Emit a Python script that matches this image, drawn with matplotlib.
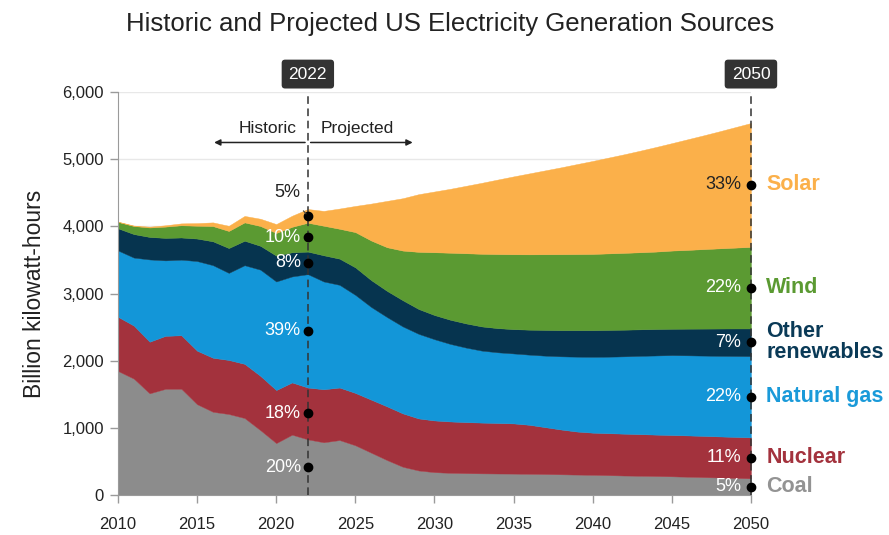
import numpy as np
import matplotlib
matplotlib.use("Agg")
import matplotlib.pyplot as plt
from matplotlib.ticker import FuncFormatter

plt.rcParams['font.family'] = ['Liberation Sans', 'DejaVu Sans']

# data (billion kWh)
years = list(range(2010, 2051))

coal = [1847, 1733, 1514, 1581, 1582, 1352, 1239, 1206, 1146, 965, 773, 898, 828,
        785, 818, 740, 630, 520, 420, 365, 340, 330, 325, 322, 320, 318, 315, 312,
        308, 304, 300, 295, 290, 286, 282, 278, 272, 266, 260, 254, 248]
nuclear = [807, 790, 769, 789, 797, 797, 805, 805, 807, 809, 790, 778, 772,
           790, 782, 780, 790, 800, 795, 775, 770, 765, 760, 756, 752, 748, 730, 698,
           667, 641, 628, 625, 623, 620, 617, 615, 615, 614, 612, 611, 610]
gas = [988, 1013, 1225, 1124, 1126, 1335, 1379, 1297, 1469, 1582, 1617, 1579, 1689,
       1605, 1530, 1460, 1380, 1330, 1295, 1260, 1210, 1155, 1110, 1072, 1053, 1042,
       1045, 1065, 1090, 1115, 1130, 1140, 1152, 1166, 1179, 1190, 1193, 1196, 1200,
       1205, 1210]
other = [330, 350, 335, 335, 330, 335, 355, 370, 365, 355, 385, 360, 336,
         390, 390, 410, 400, 390, 390, 370, 360, 360, 360, 360, 360, 362, 372, 383,
         390, 395, 397, 398, 397, 395, 394, 392, 397, 402, 407, 410, 412]
wind = [95, 120, 141, 168, 182, 191, 227, 254, 273, 295, 338, 379, 430,
        440, 445, 525, 590, 650, 740, 851, 935, 998, 1045, 1082, 1103, 1115, 1122,
        1127, 1131, 1133, 1135, 1140, 1144, 1148, 1153, 1165, 1173, 1184, 1194, 1204,
        1215]
solar = [4, 7, 12, 20, 28, 39, 55, 77, 96, 108, 132, 165, 204,
         221, 301, 390, 550, 690, 780, 859, 905, 952, 1005, 1058, 1110, 1160, 1206,
         1250, 1294, 1340, 1385, 1427, 1469, 1513, 1558, 1600, 1648, 1694, 1743,
         1794, 1845]

names = ["Coal", "Nuclear", "Natural gas", "Other\nrenewables", "Wind", "Solar"]
colors = ["#8c8c8c", "#a3323d", "#1396d8", "#06344f", "#5b9a32", "#fbb04a"]
label_colors = ["#939393", "#a3323d", "#1a9ad9", "#0a3a57", "#5b9a32", "#fbb04a"]
pct_2022 = ["20%", "18%", "39%", "8%", "10%", "5%"]
pct_2050 = ["5%", "11%", "22%", "7%", "22%", "33%"]

series = np.array([coal, nuclear, gas, other, wind, solar], dtype=float)
x = np.array(years)
tops = np.cumsum(series, axis=0)
bottoms = tops - series

fig = plt.figure(figsize=(8.89, 5.35), dpi=100)
ax = fig.add_axes([0.1327, 0.0748, 0.712, 0.753])

for i in range(len(series)):
    ax.fill_between(x, bottoms[i], tops[i], color=colors[i], ec=colors[i], lw=0.3, zorder=2)

ax.set_xlim(2010, 2050)
ax.set_ylim(0, 6000)
ax.set_xticks(range(2010, 2051, 5))
ax.set_yticks(range(0, 6001, 1000))
ax.yaxis.set_major_formatter(FuncFormatter(lambda v, p: f"{v:,.0f}"))
ax.tick_params(axis='both', labelsize=12, color='#9a9a9a', length=6, width=1, labelcolor='#222222')
ax.tick_params(axis='y', pad=4)
ax.tick_params(axis='x', pad=10)
ax.yaxis.grid(True, color='#e8e8e8', lw=1)
ax.set_axisbelow(True)
for s in ['top', 'right']:
    ax.spines[s].set_visible(False)
for s in ['left', 'bottom']:
    ax.spines[s].set_color('#9a9a9a')
    ax.spines[s].set_zorder(3)

ax.set_ylabel("Billion kilowatt-hours", fontsize=16.5, color='#222222', labelpad=12)
fig.suptitle("Historic and Projected US Electricity Generation Sources", fontsize=18.5,
             x=0.506, y=0.978, color='#222222')

# marker lines for 2022 and 2050
for yr in [2022, 2050]:
    ax.plot([yr, yr], [0, 6000], ls=(0, (5, 3)), color='#333333', lw=1.1, zorder=4,
            clip_on=False)
    ax.annotate(str(yr), xy=(yr, 6000), xycoords='data', xytext=(0, 13),
                textcoords='offset points', ha='center', va='center', fontsize=12.5,
                color='white', annotation_clip=False,
                bbox=dict(boxstyle='round,pad=0.4,rounding_size=0.2', fc='#333333', ec='none'))

# historic / projected arrow
ax.annotate("", xy=(2015.9, 5250), xytext=(2022, 5250),
            arrowprops=dict(arrowstyle='-|>', color='#222222', lw=1.1, mutation_scale=9))
ax.annotate("", xy=(2028.8, 5250), xytext=(2022, 5250),
            arrowprops=dict(arrowstyle='-|>', color='#222222', lw=1.1, mutation_scale=9))
ax.text(2021.3, 5460, "Historic", ha='right', va='center', fontsize=12.5, color='#222222')
ax.text(2022.8, 5460, "Projected", ha='left', va='center', fontsize=12.5, color='#222222')

# dots and percentage labels
i22 = years.index(2022)
i50 = years.index(2050)
mid22 = (bottoms[:, i22] + tops[:, i22]) / 2
mid50 = (bottoms[:, i50] + tops[:, i50]) / 2

ax.scatter([2022] * 6, mid22, s=36, color='black', zorder=5, clip_on=False)
ax.scatter([2050] * 6, mid50, s=36, color='black', zorder=5, clip_on=False)

for i in range(5):
    ax.annotate(pct_2022[i], xy=(2022, mid22[i]), xytext=(-5, 0), textcoords='offset points',
                ha='right', va='center', fontsize=13, color='white', zorder=6)
ax.annotate(pct_2022[5], xy=(2022, mid22[5]), xytext=(-15, 17), textcoords='offset points',
            ha='center', va='center', fontsize=13, color='#222222', zorder=6,
            arrowprops=dict(arrowstyle='-', color='#444444', lw=0.8, shrinkA=7, shrinkB=2))

for i in range(6):
    ax.annotate(pct_2050[i], xy=(2050, mid50[i]), xytext=(-7, 0), textcoords='offset points',
                ha='right', va='center', fontsize=13,
                color='#222222' if i == 5 else 'white', zorder=6)
    ax.annotate(names[i], xy=(2050, mid50[i]), xytext=(11, 0), textcoords='offset points',
                ha='left', va='center', fontsize=15.5, fontweight='bold',
                color=label_colors[i], linespacing=1.0, annotation_clip=False)

fig.savefig("out.png", dpi=100)
